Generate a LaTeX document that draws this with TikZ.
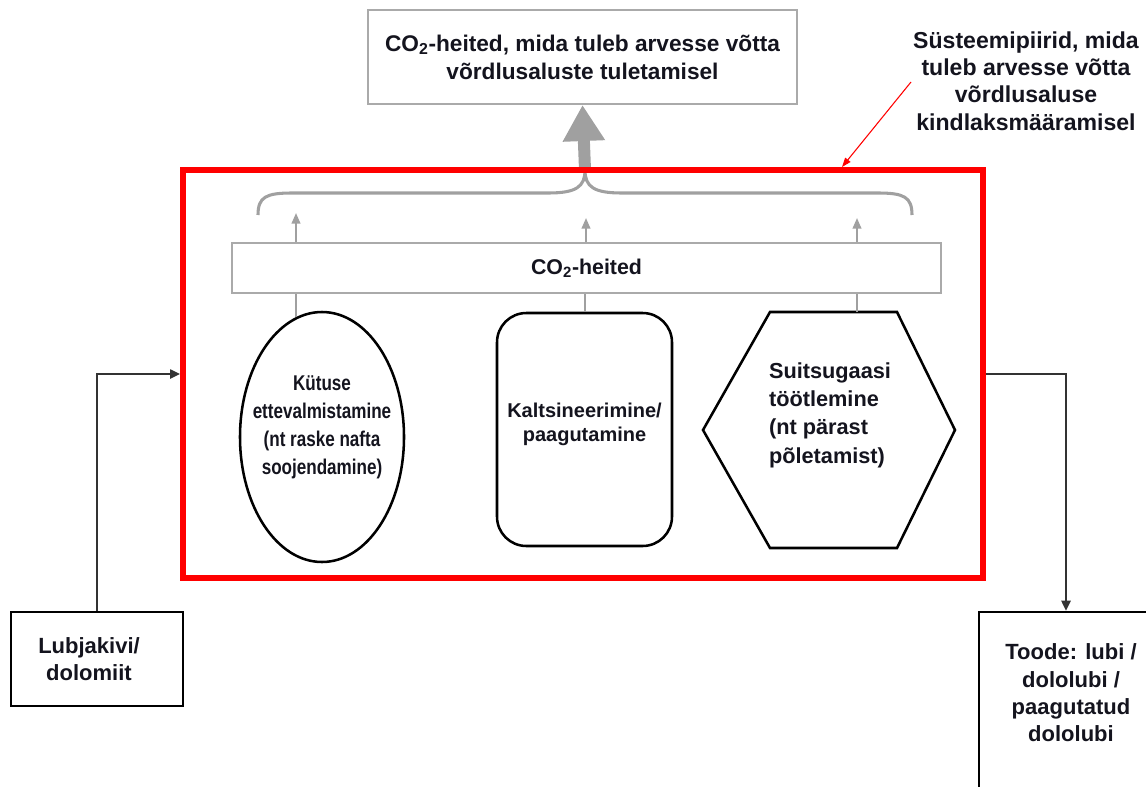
\documentclass[tikz,border=0pt]{standalone}
\usepackage{fontspec}
\setmainfont{Liberation Sans}
\newfontfamily\narrowfont[FakeStretch=0.8]{Liberation Sans}
\usetikzlibrary{arrows.meta,shapes.geometric}
\newdimen\px \px=0.75pt
\definecolor{grayc}{RGB}{160,160,160}
\definecolor{boxgray}{RGB}{170,170,170}
\definecolor{textc}{RGB}{20,20,30}
\begin{document}
\begin{tikzpicture}[x=0.75pt,y=-0.75pt,
  gline/.style={draw=grayc, line width=1.5pt},
  boxg/.style={draw=boxgray, line width=1.5pt, fill=white},
  blk/.style={draw=black, line width=1.9pt},
  lbl/.style={font=\bfseries\fontsize{16.5}{20.5}\selectfont, align=center, text=textc},
  shp/.style={font=\narrowfont\bfseries\fontsize{16}{21}\selectfont, align=center, text=textc},
  shpw/.style={font=\bfseries\fontsize{16.3}{21.3}\selectfont, align=left, text=textc},
  shps/.style={font=\bfseries\fontsize{15}{18}\selectfont, align=center, text=textc},
  conn/.style={draw=black!80, line width=1.1pt, -{Triangle[length=7.5pt,width=7pt]}},
  smallarr/.style={gline, -{Triangle[length=8pt,width=6.5pt]}}
]
\useasboundingbox (0,0) rectangle (1146,786);
\clip (0,0) rectangle (1146,786);

% top box
\node[boxg, minimum width=429\px, minimum height=94\px, lbl, font=\bfseries\fontsize{17}{21}\selectfont] (top) at (582.5,57)
  {CO\textsubscript{2}-heited, mida tuleb arvesse võtta\\võrdlusaluste tuletamisel};
% annotation
\node[lbl, font=\bfseries\fontsize{17.3}{20.5}\selectfont] (ann) at (1026,81)
  {Süsteemipiirid, mida\\tuleb arvesse võtta\\võrdlusaluse\\kindlaksmääramisel};

% CO2 box
\node[boxg, minimum width=709\px, minimum height=50\px, shps, font=\bfseries\fontsize{16}{19}\selectfont] (co2) at (586.5,268) {CO\textsubscript{2}-heited};

% process shapes
\node[blk, ellipse, minimum width=164\px, minimum height=250\px, inner sep=0] (ell) at (322,437) {};
\node[shp] (ellt) at (322,427) {Kütuse\\ettevalmistamine\\(nt raske nafta\\soojendamine)};

\node[blk, rounded corners=22pt, minimum width=175\px, minimum height=233\px] (rr) at (584.5,429.5) {};
\node[shps] (rrt) at (584.5,424) {Kaltsineerimine/\\paagutamine};

\coordinate (h1) at (770,312);
\coordinate (h2) at (897,312);
\coordinate (h3) at (955,430);
\coordinate (h4) at (897,548);
\coordinate (h5) at (770,548);
\coordinate (h6) at (703,430);
\draw[blk, line join=miter] (h1) -- (h2) -- (h3) -- (h4) -- (h5) -- (h6) -- cycle;
\node[shpw] (hext) at (830,415) {Suitsugaasi\\töötlemine\\(nt pärast\\põletamist)};

% gray lines into CO2 box
\coordinate (htop) at (857,312);
\draw[gline] (ell.102) -- (ell.102 |- co2.south);
\draw[gline] (rr.north) -- (rr.north |- co2.south);
\draw[gline] (htop) -- (htop |- co2.south);

% small arrows out of CO2 box
\coordinate (a1) at (296,213);
\coordinate (a2) at (586,218);
\coordinate (a3) at (857,218);
\draw[smallarr] (co2.north -| a1) -- (a1);
\draw[smallarr] (co2.north -| a2) -- (a2);
\draw[smallarr] (co2.north -| a3) -- (a3);

% brace
\coordinate (bl) at (258,215);
\coordinate (bc) at (585,170);
\coordinate (br) at (912,215);
\draw[draw=grayc, line width=2.3pt]
  (bl) .. controls (258,197) and (266,193) .. (292,193) -- (548,193)
  .. controls (576,193) and (585,187) .. (bc)
  .. controls (585,187) and (594,193) .. (622,193) -- (878,193)
  .. controls (904,193) and (912,197) .. (br);

% big arrow
\draw[draw=grayc, line width=9pt, -{Triangle[length=27pt,width=30pt]}] (bc) -- (top.south);

% system boundary
\node[draw=red, line width=4.5pt, minimum width=800\px, minimum height=408\px] (sys) at (583,374) {};

% annotation arrow
\coordinate (annTail) at (911,82);
\coordinate (annHead) at (842,0);
\draw[draw=red, line width=0.8pt, -{Triangle[length=7pt,width=5pt]}] (annTail) -- (sys.north -| annHead);

% input / output
\node[blk, minimum width=172\px, minimum height=94\px] (lb) at (97,659) {};
\node[lbl] (lbt) at (89,659) {Lubjakivi/\\dolomiit};
\node[blk, minimum width=174\px, minimum height=190\px] (rb) at (1066,707) {};
\node[lbl] (rbt) at (1071,693) {Toode: lubi /\\dololubi /\\paagutatud\\dololubi};

\draw[conn] (lb.north) |- (sys.west);
\draw[conn] (sys.east) -| (rb.north);
\end{tikzpicture}
\end{document}
